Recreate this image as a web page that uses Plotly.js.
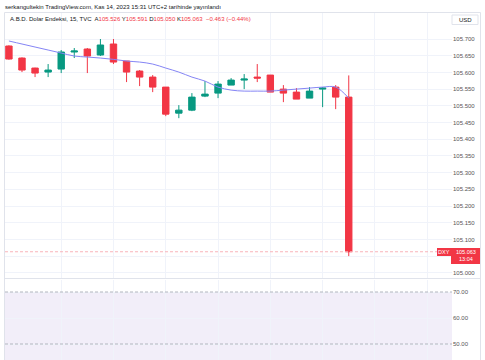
<!DOCTYPE html>
<html><head><meta charset="utf-8">
<script src="https://cdn.plot.ly/plotly-3.0.1.min.js"></script>
<style>html,body{margin:0;padding:0;background:#fff}</style>
</head><body><div id="c" style="width:485px;height:360px"></div>
<script>
const openP  = [105.679,105.643,105.613,105.601,105.610,105.661,105.670,105.652,105.685,105.634,105.604,105.586,105.556,105.478,105.487,105.529,105.538,105.562,105.577,105.586,105.592,105.550,105.541,105.523,105.550,105.556,105.526];
const highP  = [105.681,105.645,105.614,105.625,105.667,105.673,105.673,105.700,105.700,105.634,105.607,105.592,105.556,105.502,105.538,105.574,105.574,105.583,105.595,105.625,105.592,105.562,105.553,105.556,105.556,105.562,105.591];
const lowP   = [105.638,105.601,105.586,105.586,105.598,105.643,105.598,105.649,105.625,105.571,105.559,105.541,105.469,105.463,105.484,105.526,105.523,105.562,105.550,105.571,105.541,105.511,105.520,105.523,105.496,105.490,105.050];
const closeP = [105.640,105.607,105.598,105.607,105.661,105.664,105.649,105.682,105.631,105.601,105.586,105.556,105.475,105.487,105.526,105.535,105.565,105.577,105.580,105.583,105.541,105.538,105.520,105.544,105.553,105.526,105.063];
const maLine = [105.694,105.685,105.676,105.667,105.658,105.649,105.646,105.643,105.639,105.634,105.631,105.625,105.613,105.601,105.586,105.574,105.556,105.547,105.544,105.544,105.544,105.547,105.550,105.553,105.556,105.556,105.523];
const priceTicks = [105.000,105.050,105.100,105.150,105.200,105.250,105.300,105.350,105.400,105.450,105.500,105.550,105.600,105.650,105.700];
const rsiTicks = [50, 60, 70];
const lastPrice = 105.063;
const lastTime = "13:04";
const symbol = "DXY";

const W=485,H=360,L=5,R=33,T=12,B=0;
const pw=W-L-R, ph=H-T-B;
const px=x=>(x-L)/pw, py=y=>(H-y)/ph;
const idx = openP.map((_,i)=>i+1);
const red='#F23645', green='#089981';
const font='Liberation Sans, Arial, sans-serif';

const data=[
 {type:'candlestick',x:idx,open:openP,high:highP,low:lowP,close:closeP,xaxis:'x',yaxis:'y',
  increasing:{line:{color:green,width:1},fillcolor:green},
  decreasing:{line:{color:red,width:1},fillcolor:red},
  hoverinfo:'skip',showlegend:false},
 {type:'scatter',mode:'lines',x:idx,y:maLine,xaxis:'x',yaxis:'y',line:{color:'#8585F5',width:1,shape:'spline'},hoverinfo:'skip',showlegend:false}
];
const vgrid=[5,9,13,17,21,25,29,33];
const layout={
 width:W,height:H,margin:{l:L,r:R,t:T,b:B},paper_bgcolor:'#fff',plot_bgcolor:'#fff',
 font:{family:font,size:6,color:'#555'},
 xaxis:{domain:[0,1],range:[0.7,34.9],tickvals:vgrid,showticklabels:false,ticks:'',gridcolor:'#F0F3FA',zeroline:false,rangeslider:{visible:false},anchor:'y',fixedrange:true},
 xaxis2:{domain:[0,1],range:[0.7,34.9],tickvals:vgrid,showticklabels:false,ticks:'',gridcolor:'#F0F3FA',zeroline:false,anchor:'y2',matches:'x'},
 yaxis:{domain:[py(278),1],range:[105.7-(278-39)/334,105.7+27/334],side:'right',tickvals:priceTicks,
   ticktext:priceTicks.map(v=>Math.abs(v-lastPrice)<0.025?'':v.toFixed(3)),
   gridcolor:'#F0F3FA',zeroline:false,ticks:'',tickfont:{size:6,color:'#555'}},
 yaxis2:{domain:[0,py(280)],range:[70-68/2.6,70+12/2.6],side:'right',tickvals:rsiTicks,ticktext:rsiTicks.map(v=>v.toFixed(2)),
   gridcolor:'#F0F3FA',zeroline:false,ticks:'',tickfont:{size:6,color:'#555'}},
 shapes:[
  {type:'rect',xref:'x2',yref:'y2',x0:0.7,x1:34.9,y0:30,y1:70,fillcolor:'rgba(126,87,194,0.1)',line:{width:0},layer:'below'},
  {type:'line',xref:'paper',yref:'y2',x0:0,x1:1,y0:70,y1:70,line:{color:'#B2B5BE',width:1,dash:'3px,2px'}},
  {type:'line',xref:'paper',yref:'y2',x0:0,x1:1,y0:50,y1:50,line:{color:'#B2B5BE',width:1,dash:'3px,2px'}},
  {type:'line',xref:'paper',yref:'y',x0:0,x1:px(437),y0:lastPrice,y1:lastPrice,line:{color:'#F9B4BA',width:1,dash:'3px,2px'}},
  {type:'line',xref:'paper',yref:'paper',x0:px(4.5),x1:px(480),y0:py(278.5),y1:py(278.5),line:{color:'#E0E3EB',width:1}},
  {type:'rect',xref:'paper',yref:'paper',x0:px(4.5),x1:px(480.5),y0:py(12.5),y1:py(361),line:{color:'#E0E3EB',width:1}},
  {type:'rect',xref:'paper',yref:'paper',x0:px(452),x1:px(478),y0:py(15),y1:py(24.5),fillcolor:'#fff',line:{color:'#E0E3EB',width:1}},
  {type:'rect',xref:'paper',yref:'paper',x0:px(437),x1:px(451),y0:py(248),y1:py(256),fillcolor:red,line:{width:0}},
  {type:'rect',xref:'paper',yref:'paper',x0:px(451),x1:px(480),y0:py(248),y1:py(264),fillcolor:red,line:{width:0}}
 ],
 annotations:[
  {xref:'paper',yref:'paper',x:px(3),y:py(7),xanchor:'left',yanchor:'middle',showarrow:false,
   text:'serkangultekin TradingView.com, Kas 14, 2023 15:31 UTC+2 tarihinde yayınlandı',font:{size:6,color:'#131722'}},
  {xref:'paper',yref:'paper',x:px(8),y:py(19),xanchor:'left',yanchor:'middle',showarrow:false,
   text:'A.B.D. Dolar Endeksi, 15, TVC  A<span style="color:'+red+'">'+openP[26].toFixed(3)+'</span> Y<span style="color:'+red+'">'+highP[26].toFixed(3)+'</span> D<span style="color:'+red+'">'+lowP[26].toFixed(3)+'</span> K<span style="color:'+red+'">'+closeP[26].toFixed(3)+'</span>  <span style="color:'+red+'">−0.463 (−0.44%)</span>',
   font:{size:6,color:'#131722'}},
  {xref:'paper',yref:'paper',x:px(465),y:py(19.5),xanchor:'center',yanchor:'middle',showarrow:false,text:'USD',font:{size:6,color:'#131722'}},
  {xref:'paper',yref:'paper',x:px(444),y:py(252),xanchor:'center',yanchor:'middle',showarrow:false,text:symbol,font:{size:5.5,color:'#fff'}},
  {xref:'paper',yref:'paper',x:px(466),y:py(255.8),xanchor:'center',yanchor:'middle',showarrow:false,align:'center',borderpad:0,
   text:lastPrice.toFixed(3)+'<br>'+lastTime,font:{size:5.5,color:'#fff'}}
 ]
};
Plotly.newPlot('c',data,layout,{displayModeBar:false,staticPlot:true});
</script></body></html>
